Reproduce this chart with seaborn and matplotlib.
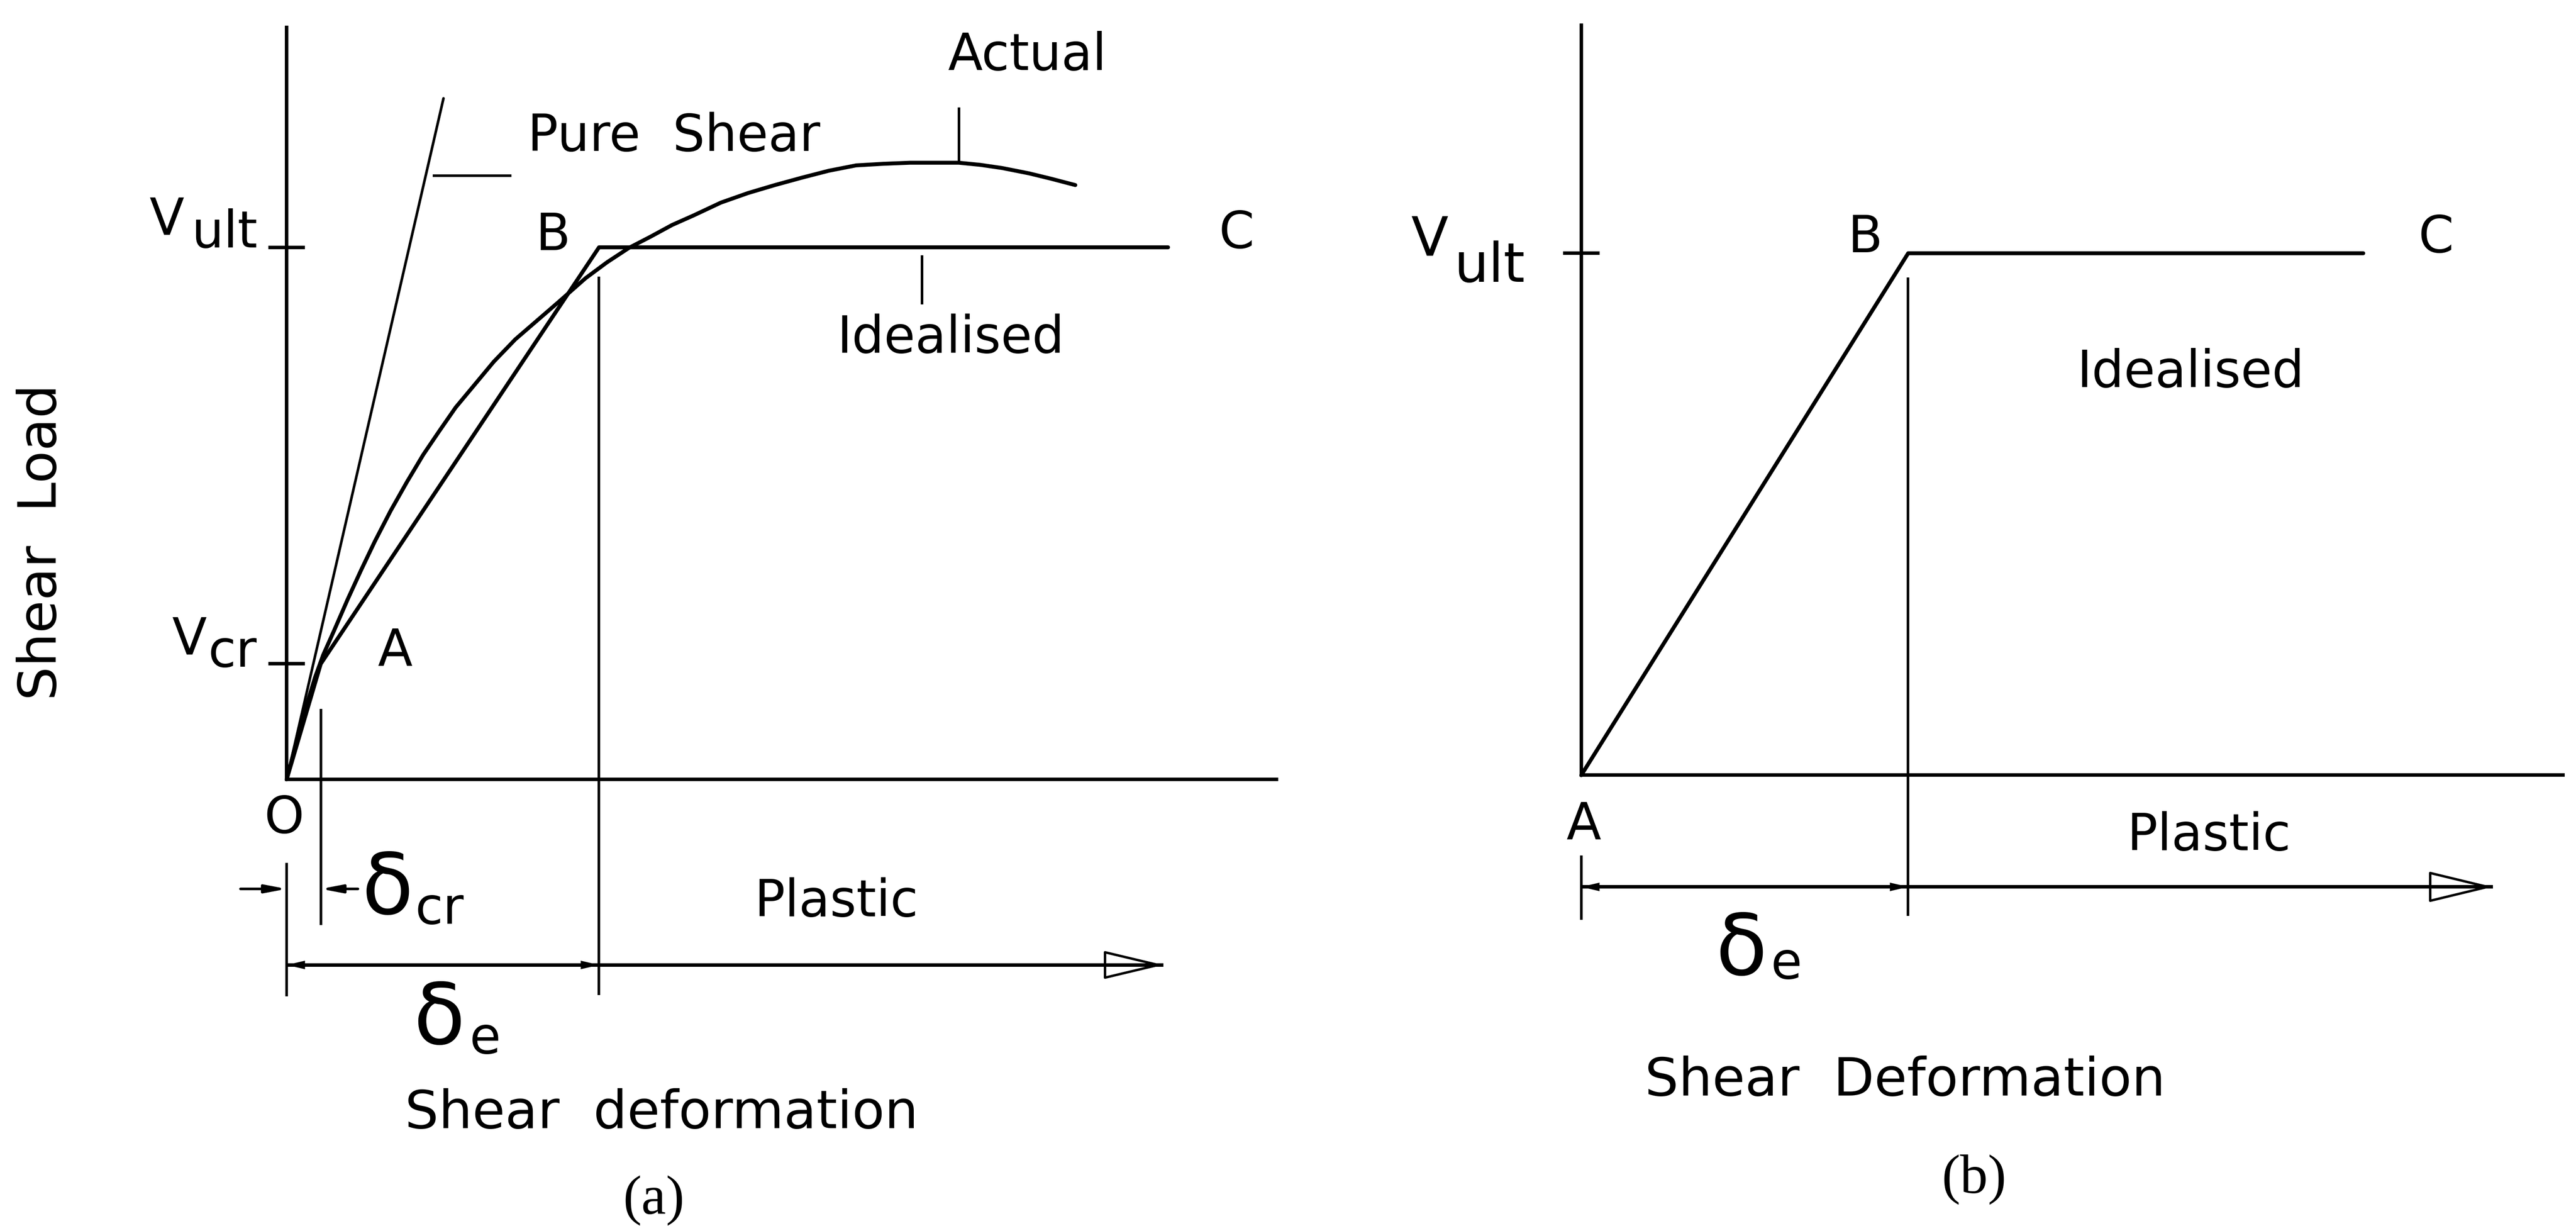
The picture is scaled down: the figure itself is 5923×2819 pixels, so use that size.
import matplotlib
matplotlib.use("Agg")
import matplotlib.pyplot as plt
import seaborn as sns

# ---------------- data ----------------
# deformation in units of delta_e, shear load in units of V_ult
V_ULT = 1.0
V_CR = 0.217
DELTA_E = 1.0
DELTA_CR = 0.109

# (a) measured ("actual") shear response
actual_defl = [0.0, 0.048, 0.091, 0.117, 0.152, 0.195, 0.238, 0.282, 0.333, 0.385,
               0.437, 0.489, 0.541, 0.602, 0.663, 0.732, 0.801, 0.870, 0.957, 1.026,
               1.096, 1.165, 1.234, 1.303, 1.390, 1.477, 1.563, 1.650, 1.736, 1.823,
               1.910, 1.996, 2.083, 2.152, 2.221, 2.291, 2.377, 2.447, 2.525]
actual_load = [0.0, 0.109, 0.192, 0.234, 0.280, 0.338, 0.393, 0.447, 0.505, 0.559,
               0.610, 0.655, 0.699, 0.742, 0.785, 0.827, 0.862, 0.897, 0.942, 0.972,
               0.999, 1.020, 1.042, 1.060, 1.084, 1.102, 1.117, 1.131, 1.144, 1.154,
               1.157, 1.159, 1.159, 1.159, 1.155, 1.149, 1.139, 1.129, 1.117]

# (a) tri-linear idealisation O-A-B-C
ideal_defl_a = [0.0, DELTA_CR, DELTA_E, 2.822]
ideal_load_a = [0.0, V_CR, V_ULT, V_ULT]

# (a) pure shear stiffness line
pure_defl = [0.0, 0.502]
pure_load = [0.0, 1.280]

# (b) bi-linear idealisation A-B-C
ideal_defl_b = [0.0, DELTA_E, 2.392]
ideal_load_b = [0.0, V_ULT, V_ULT]

# ---------------- style ----------------
sns.set_theme(style="white")
plt.rcParams["font.family"] = ["DejaVu Sans"]
plt.rcParams["text.color"] = "black"

FS = 84          # general label size (pt)
FS_DELTA = 140   # large delta glyph
LW_AX = 5.8
LW_CURVE = 6.5
LW_THIN = 4.3
K = "black"

fig = plt.figure(figsize=(59.23, 28.19), dpi=100, facecolor="white")
ax_a = fig.add_axes([0.0, 0.0, 0.5, 1.0])
ax_b = fig.add_axes([0.5, 0.0, 0.5, 1.0])

ax_a.set_xlim(-0.918, 3.206)
ax_a.set_ylim(-0.8397, 1.4649)
ax_b.set_xlim(-0.897, 3.0427)
ax_b.set_ylim(-0.8637, 1.4852)


def style_axes(ax, ytop, xend, yticks):
    ax.set_facecolor("none")
    for side in ("top", "right"):
        ax.spines[side].set_visible(False)
    for side in ("left", "bottom"):
        ax.spines[side].set_position(("data", 0))
        ax.spines[side].set_color(K)
        ax.spines[side].set_linewidth(LW_AX)
    ax.spines["left"].set_bounds(0, ytop)
    ax.spines["bottom"].set_bounds(0, xend)
    ax.set_xticks([])
    ax.set_yticks(yticks)
    ax.set_yticklabels([""] * len(yticks))
    ax.tick_params(axis="y", direction="inout", length=60, width=LW_AX, color=K, left=True)
    ax.set_xlabel("")
    ax.set_ylabel("")
    ax.grid(False)


def vline(ax, x, y0, y1, lw=LW_THIN):
    ax.plot([x, x], [y0, y1], color=K, lw=lw, solid_capstyle="butt", zorder=3)


def hline(ax, y, x0, x1, lw=LW_THIN):
    ax.plot([x0, x1], [y, y], color=K, lw=lw, solid_capstyle="butt", zorder=3)


def arrow(ax, x0, x1, y, style, hl, hw, fc, lw=3.5, z=4):
    ax.annotate("", xy=(x1, y), xytext=(x0, y),
                arrowprops=dict(arrowstyle=f"{style},head_length={hl},head_width={hw}",
                                mutation_scale=1, fc=fc, ec=K, lw=lw,
                                shrinkA=0, shrinkB=0),
                zorder=z)


def label(ax, x, y, s, size=FS, ha="center", va="baseline", **kw):
    ax.text(x, y, s, fontsize=size, ha=ha, va=va, color=K, **kw)


# ================= panel (a) =================
sns.lineplot(x=pure_defl, y=pure_load, ax=ax_a, color=K, lw=LW_THIN,
             sort=False, estimator=None, zorder=3)
sns.lineplot(x=actual_defl, y=actual_load, ax=ax_a, color=K, lw=LW_CURVE,
             sort=False, estimator=None, zorder=3)
sns.lineplot(x=ideal_defl_a, y=ideal_load_a, ax=ax_a, color=K, lw=LW_CURVE,
             sort=False, estimator=None, zorder=3)
for ln in ax_a.get_lines():
    ln.set_solid_joinstyle("round")
style_axes(ax_a, 1.413, 3.169, [V_CR, V_ULT])

# leaders
hline(ax_a, 1.135, 0.468, 0.720)
vline(ax_a, 2.152, 1.158, 1.263)
vline(ax_a, 2.034, 0.893, 0.985)

# extension lines
vline(ax_a, DELTA_E, 0.945, -0.406)
vline(ax_a, DELTA_CR, 0.132, -0.274)
vline(ax_a, 0.0, -0.157, -0.408)

# delta_cr dimension (arrows pointing inwards from outside)
y_cr = -0.206
arrow(ax_a, -0.148, 0.0, y_cr, "-|>", 29, 5.5, K, lw=LW_THIN)
arrow(ax_a, 0.228, DELTA_CR, y_cr, "-|>", 29, 5.5, K, lw=LW_THIN)

# delta_e dimension line continuing as the deformation arrow
y_e = -0.349
tip_a = 2.807
arrow(ax_a, tip_a - 0.17, tip_a, y_e, "-|>", 88, 21, "white", lw=4.0, z=2)
ax_a.plot([0, tip_a], [y_e, y_e], color=K, lw=LW_AX, solid_capstyle="butt", zorder=3)
arrow(ax_a, 0.0, DELTA_E, y_e, "<|-|>", 30, 7, K, lw=0.1)

# labels
label(ax_a, 2.370, 1.333, "Actual")
label(ax_a, 1.239, 1.181, "Pure  Shear")
label(ax_a, 0.853, 0.995, "B")
label(ax_a, 3.041, 0.999, "C")
label(ax_a, 2.126, 0.802, "Idealised")
label(ax_a, -0.385, 1.0235, "V")
label(ax_a, -0.305, 1.000, "ult", ha="left")
label(ax_a, -0.312, 0.2348, "V")
label(ax_a, -0.252, 0.2113, "cr", ha="left")
label(ax_a, 0.347, 0.213, "A")
label(ax_a, -0.008, -0.1004, "O")
label(ax_a, 0.240, -0.2527, "δ", size=FS_DELTA, ha="left")
label(ax_a, 0.412, -0.2712, "cr", ha="left")
label(ax_a, 1.7596, -0.2573, "Plastic")
label(ax_a, 0.405, -0.4968, "δ", size=FS_DELTA, ha="left")
label(ax_a, 0.585, -0.5153, "e", ha="left")
label(ax_a, 1.2004, -0.6559, "Shear  deformation", size=88)
ax_a.text(1.1757, -0.7918, "(a)", fontsize=92, ha="center", va="center",
          family=["Liberation Serif", "DejaVu Serif"], color=K)
ax_a.text(-0.785, 0.4455, "Shear  Load", fontsize=88, ha="center", va="center",
          rotation=90, color=K)

# ================= panel (b) =================
sns.lineplot(x=ideal_defl_b, y=ideal_load_b, ax=ax_b, color=K, lw=LW_CURVE,
             sort=False, estimator=None, zorder=3)
style_axes(ax_b, 1.437, 3.0025, [V_ULT])

vline(ax_b, DELTA_E, 0.954, -0.270)
vline(ax_b, 0.0, -0.154, -0.277)

y_eb = -0.214
tip_b = 2.788
arrow(ax_b, tip_b - 0.186, tip_b, y_eb, "-|>", 95, 23, "white", lw=4.0, z=2)
ax_b.plot([0, tip_b], [y_eb, y_eb], color=K, lw=LW_AX, solid_capstyle="butt", zorder=3)
arrow(ax_b, 0.0, DELTA_E, y_eb, "<|-|>", 30, 7, K, lw=0.1)

label(ax_b, -0.4648, 0.995, "V", size=90)
label(ax_b, -0.3894, 0.9449, "ult", size=90, ha="left")
label(ax_b, 0.8688, 1.0019, "B")
label(ax_b, 2.615, 1.0019, "C")
label(ax_b, 1.8638, 0.7434, "Idealised")
label(ax_b, 0.007, -0.1228, "A")
label(ax_b, 1.920, -0.1439, "Plastic")
label(ax_b, 0.410, -0.3819, "δ", size=FS_DELTA, ha="left")
label(ax_b, 0.580, -0.3892, "e", ha="left")
label(ax_b, 0.9905, -0.6137, "Shear  Deformation", size=88)
ax_b.text(1.201, -0.7749, "(b)", fontsize=92, ha="center", va="center",
          family=["Liberation Serif", "DejaVu Serif"], color=K)

fig.savefig("out.png", dpi=100, facecolor="white")
